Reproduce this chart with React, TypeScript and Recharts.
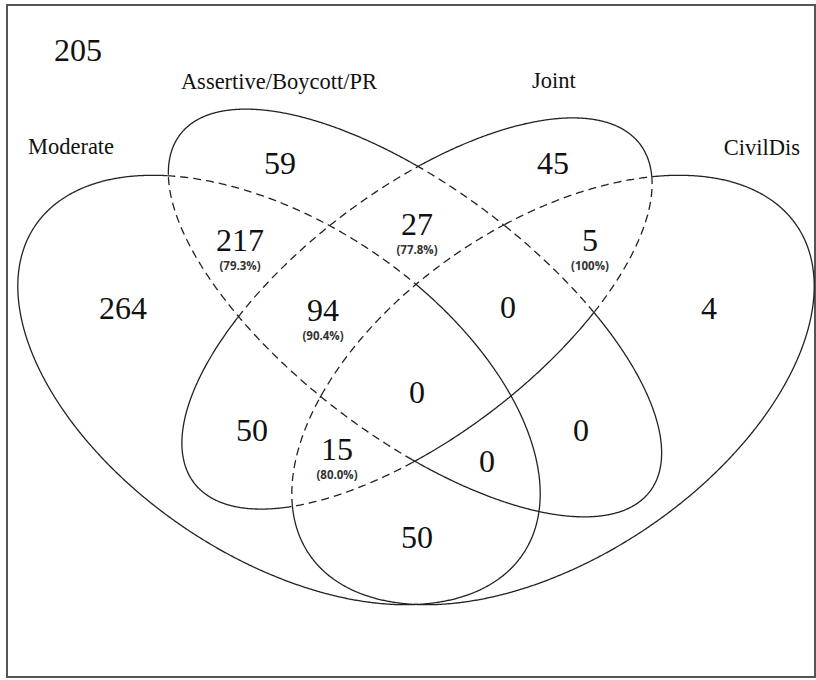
import React from 'react';
import { ScatterChart, Scatter, XAxis, YAxis, ReferenceArea } from 'recharts';

const W = 816;
const H = 680;
const X_MAX = 816;
const Y_MAX = 680;
const SERIF = 'Liberation Serif, Times New Roman, serif';

// sets, in the order used by the region keys (M A J C)
const setNames = ['Moderate', 'Assertive/Boycott/PR', 'Joint', 'CivilDis'];
const setLabelX = [71, 279, 554, 762];
const setLabelY = [154, 89, 88, 155];

// ellipse geometry in chart units
const ellipseCx = [279, 415, 417, 553];
const ellipseCy = [390, 313, 313.5, 390];
const ellipseRx = [294, 295, 280, 294];
const ellipseRy = [167, 124, 123, 167];
const ellipseAngle = [33.9, 37.2, -37.2, -33.9];

// regions: membership key, count, share and anchor point
const regionKeys = ['0000', '1000', '0100', '0010', '0001', '1100', '0110', '0011', '1010', '1001', '0101', '1110', '0111', '1101', '1011', '1111'];
const regionCounts = [205, 264, 59, 45, 4, 217, 27, 5, 50, 50, 0, 94, 0, 0, 15, 0];
const regionPct = ['', '', '', '', '', '(79.3%)', '(77.8%)', '(100%)', '', '', '', '(90.4%)', '', '', '(80.0%)', ''];
const regionX = [78, 123, 280, 553, 709, 240, 417, 590, 252, 417, 581, 323, 508, 487, 337, 417];
const regionY = [50, 308, 163, 163, 308, 240, 224, 240, 430, 537, 430, 310, 307, 461, 449, 392];

const highlighted = new Set(regionKeys.filter((_, i) => regionPct[i] !== ''));

const rad = (d: number) => (d * Math.PI) / 180;

function inside(i: number, x: number, y: number) {
  const t = rad(ellipseAngle[i]);
  const dx = x - ellipseCx[i];
  const dy = y - ellipseCy[i];
  const u = dx * Math.cos(t) + dy * Math.sin(t);
  const v = -dx * Math.sin(t) + dy * Math.cos(t);
  return (u / ellipseRx[i]) ** 2 + (v / ellipseRy[i]) ** 2 < 1;
}

function keyAt(x: number, y: number, self: number, selfIn: boolean) {
  return [0, 1, 2, 3]
    .map((j) => (j === self ? (selfIn ? '1' : '0') : inside(j, x, y) ? '1' : '0'))
    .join('');
}

function pointOn(i: number, s: number) {
  const t = rad(ellipseAngle[i]);
  const a = ellipseRx[i] * Math.cos(s);
  const b = ellipseRy[i] * Math.sin(s);
  return [ellipseCx[i] + a * Math.cos(t) - b * Math.sin(t), ellipseCy[i] + a * Math.sin(t) + b * Math.cos(t)];
}

const N = 1200;

const EllipseShape = (props: any) => {
  const { cx, cy, payload } = props;
  const i = payload.idx;
  const sx = W / X_MAX;
  const sy = H / Y_MAX;
  const px = (x: number) => cx + (x - ellipseCx[i]) * sx;
  const py = (y: number) => cy + (y - ellipseCy[i]) * sy;

  // a segment is dashed when it borders a highlighted region
  const dashed: boolean[] = [];
  for (let k = 0; k < N; k++) {
    const [mx, my] = pointOn(i, (2 * Math.PI * (k + 0.5)) / N);
    const rx = mx - ellipseCx[i];
    const ry = my - ellipseCy[i];
    const d = 2 / Math.hypot(rx, ry);
    const kin = keyAt(ellipseCx[i] + rx * (1 - d), ellipseCy[i] + ry * (1 - d), i, true);
    const kout = keyAt(ellipseCx[i] + rx * (1 + d), ellipseCy[i] + ry * (1 + d), i, false);
    dashed.push(highlighted.has(kin) || highlighted.has(kout));
  }
  let start = 0;
  for (let k = 0; k < N; k++) {
    if (dashed[k] !== dashed[(k + N - 1) % N]) { start = k; break; }
  }
  const runs: { d: string; dash: boolean }[] = [];
  let cur = '';
  let curDash = dashed[start];
  for (let n = 0; n <= N; n++) {
    const k = (start + n) % N;
    const [x, y] = pointOn(i, (2 * Math.PI * k) / N);
    if (n === 0) {
      cur = `M${px(x).toFixed(2)},${py(y).toFixed(2)}`;
      continue;
    }
    cur += `L${px(x).toFixed(2)},${py(y).toFixed(2)}`;
    if (n < N && dashed[k] !== curDash) {
      runs.push({ d: cur, dash: curDash });
      cur = `M${px(x).toFixed(2)},${py(y).toFixed(2)}`;
      curDash = dashed[k];
    }
  }
  runs.push({ d: cur, dash: curDash });

  return (
    <g>
      {runs.map((r, j) => (
        <path
          key={j}
          d={r.d}
          fill="none"
          stroke="#222"
          strokeWidth={1.3}
          strokeDasharray={r.dash ? '8 5' : undefined}
        />
      ))}
    </g>
  );
};

const RegionLabel = (props: any) => {
  const { cx, cy, payload } = props;
  return (
    <g>
      <text x={cx} y={cy + 10.5} textAnchor="middle" style={{ fontFamily: SERIF, fontSize: 32 }} fill="#111">
        {payload.count}
      </text>
      {payload.pct && (
        <text x={cx} y={cy + 30} textAnchor="middle" style={{ fontFamily: 'Open Sans, sans-serif', fontWeight: 700, fontSize: 11.5 }} fill="#333">
          {payload.pct}
        </text>
      )}
    </g>
  );
};

const SetLabel = (props: any) => {
  const { cx, cy, payload } = props;
  return (
    <text x={cx} y={cy} textAnchor="middle" style={{ fontFamily: SERIF, fontSize: 22.5 }} fill="#111">
      {payload.name}
    </text>
  );
};

const ellipseData = ellipseCx.map((x, idx) => ({ x, y: ellipseCy[idx], idx }));
const regionData = regionCounts.map((count, i) => ({ x: regionX[i], y: regionY[i], count, pct: regionPct[i] }));
const setData = setNames.map((name, i) => ({ x: setLabelX[i], y: setLabelY[i], name }));

export default function App() {
  return (
    <div style={{ position: 'absolute', left: 0, top: 0, width: W, height: H, background: '#fff' }}>
      <ScatterChart width={W} height={H} margin={{ top: 0, right: 0, bottom: 0, left: 0 }}>
        <XAxis type="number" dataKey="x" domain={[0, X_MAX]} hide allowDataOverflow />
        <YAxis type="number" dataKey="y" domain={[0, Y_MAX]} reversed hide allowDataOverflow />
        <ReferenceArea x1={7} x2={815} y1={5} y2={677} fill="none" stroke="#555" strokeWidth={2} fillOpacity={0} />
        <Scatter data={ellipseData} shape={EllipseShape} isAnimationActive={false} />
        <Scatter data={regionData} shape={RegionLabel} isAnimationActive={false} />
        <Scatter data={setData} shape={SetLabel} isAnimationActive={false} />
      </ScatterChart>
    </div>
  );
}
